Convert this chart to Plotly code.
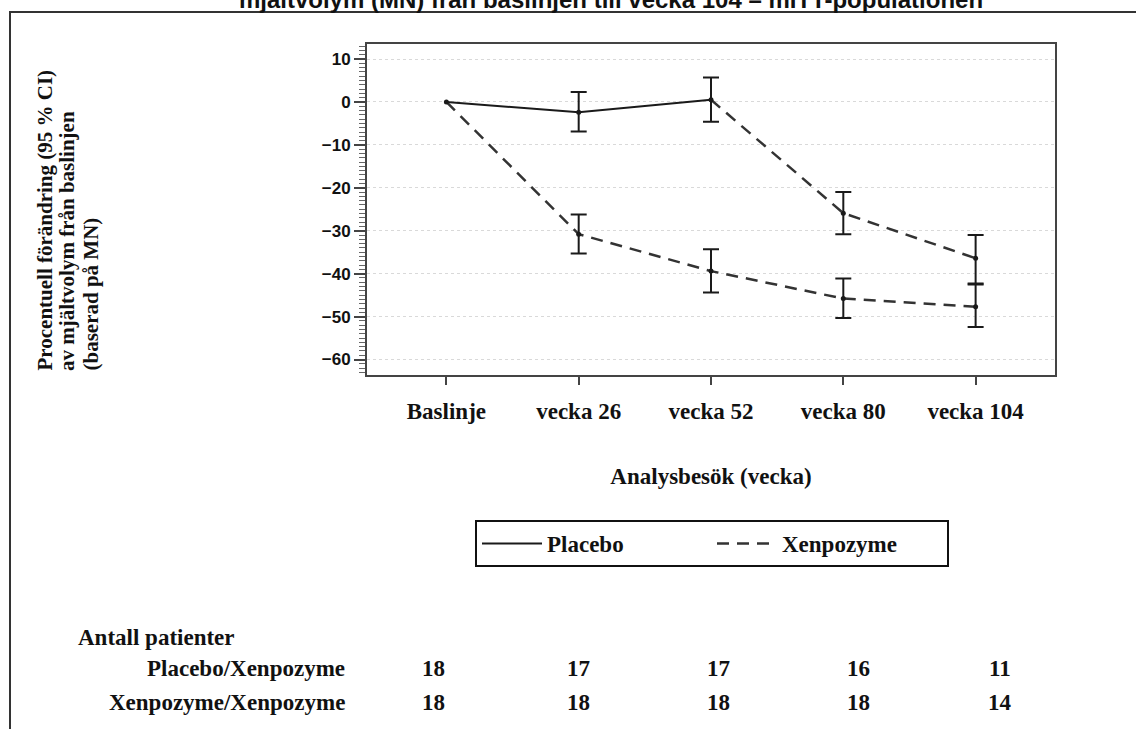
import plotly.graph_objects as go

# ---------------- data ----------------
visits = ["Baslinje", "vecka 26", "vecka 52", "vecka 80", "vecka 104"]

# Placebo group (placebo until week 52, then switched to Xenpozyme)
pbo_mean = [0.0, -2.4, 0.5, -25.9, -36.4]
pbo_upper = [0.0, 2.3, 5.7, -21.0, -31.0]
pbo_lower = [0.0, -6.9, -4.6, -30.8, -42.5]

# Xenpozyme group
xen_mean = [0.0, -30.8, -39.4, -45.8, -47.7]
xen_upper = [0.0, -26.2, -34.3, -41.1, -42.3]
xen_lower = [0.0, -35.3, -44.4, -50.3, -52.4]

row_labels = ["Placebo/Xenpozyme", "Xenpozyme/Xenpozyme"]
n_placebo = [18, 17, 17, 16, 11]
n_xen = [18, 18, 18, 18, 14]

title_text = "mjältvolym (MN) från baslinjen till vecka 104 – mITT-populationen"
y_title_lines = ["Procentuell förändring (95 % CI)", "av mjältvolym från baslinjen", "(baserad på MN)"]
x_title = "Analysbesök (vecka)"
table_title = "Antall patienter"

# ---------------- layout helpers ----------------
W, H = 1136, 729
L, R, T, B = 367, 1055, 44, 375  # plot area in pixels


def px(x):
    return (x - L) / (R - L)


def py(y):
    return (B - y) / (B - T)


SERIF = "Liberation Serif, Times New Roman, serif"
SANS = "Liberation Sans, Arial, sans-serif"
INK = "#1a1a1a"
TXT = "#111111"

fig = go.Figure()

# lines
fig.add_trace(go.Scatter(
    x=visits[:3], y=pbo_mean[:3], name="Placebo", mode="lines",
    line=dict(color=INK, width=2)))
fig.add_trace(go.Scatter(
    x=visits[2:], y=pbo_mean[2:], name="Placebo/Xenpozyme", mode="lines",
    line=dict(color="#333333", width=2.5, dash="12px,8px"), showlegend=False))
fig.add_trace(go.Scatter(
    x=visits, y=xen_mean, name="Xenpozyme", mode="lines",
    line=dict(color="#333333", width=2.5, dash="12px,8px")))

# baseline point
fig.add_trace(go.Scatter(
    x=visits[:1], y=pbo_mean[:1], mode="markers", showlegend=False, hoverinfo="skip",
    marker=dict(color=INK, size=5)))

# means with 95 % confidence intervals
for mean, up, lo in [(pbo_mean, pbo_upper, pbo_lower), (xen_mean, xen_upper, xen_lower)]:
    fig.add_trace(go.Scatter(
        x=visits[1:], y=mean[1:], mode="markers", showlegend=False, hoverinfo="skip",
        marker=dict(color=INK, size=5),
        error_y=dict(type="data", symmetric=False,
                     array=[u - m for u, m in zip(up[1:], mean[1:])],
                     arrayminus=[m - l for m, l in zip(mean[1:], lo[1:])],
                     color=INK, thickness=2, width=8)))

annotations = []
# y-axis title lines (rotated)
for xc, txt in zip([44, 67, 90], y_title_lines):
    annotations.append(dict(
        x=px(xc), y=py(373), xref="paper", yref="paper", text=txt, textangle=-90,
        showarrow=False, xanchor="center", yanchor="bottom",
        font=dict(family=SERIF, size=21, color=TXT, weight="bold")))

# patient count table
annotations.append(dict(x=px(76), y=py(637), xref="paper", yref="paper", text=table_title,
                        showarrow=False, xanchor="left", yanchor="middle",
                        font=dict(family=SERIF, size=23, color=TXT, weight="bold")))
num_x = [433, 578, 718, 858, 1000]
for yrow, lab, counts in [(668, row_labels[0], n_placebo), (702, row_labels[1], n_xen)]:
    annotations.append(dict(x=px(347), y=py(yrow), xref="paper", yref="paper", text=lab,
                            showarrow=False, xanchor="right", yanchor="middle",
                            font=dict(family=SERIF, size=23, color=TXT, weight="bold")))
    for xc, n in zip(num_x, counts):
        annotations.append(dict(x=px(xc), y=py(yrow), xref="paper", yref="paper", text=str(n),
                                showarrow=False, xanchor="center", yanchor="middle",
                                font=dict(family=SERIF, size=23, color=TXT, weight="bold")))

shapes = [dict(type="rect", xref="paper", yref="paper",
               x0=px(10), y0=py(12), x1=px(1150), y1=py(745),
               line=dict(color="#333333", width=2), fillcolor="rgba(0,0,0,0)", layer="below")]

fig.update_layout(
    width=W, height=H,
    margin=dict(l=L, r=W - R, t=T, b=H - B, pad=0),
    paper_bgcolor="white", plot_bgcolor="white",
    title=dict(text=title_text, x=611 / W, xanchor="center", y=1.0, yanchor="middle",
               yref="container", pad=dict(t=0, b=0),
               font=dict(family=SANS, size=24, color=TXT, weight="bold")),
    font=dict(family=SERIF, color=TXT),
    showlegend=True,
    legend=dict(orientation="h", x=px(475), y=py(520), xanchor="left", yanchor="top",
                bordercolor="#111", borderwidth=2, bgcolor="white",
                entrywidth=160, entrywidthmode="pixels",
                font=dict(family=SERIF, size=23, color=TXT, weight="bold"),
                itemwidth=60),
    annotations=annotations,
    shapes=shapes,
    xaxis=dict(
        type="category", range=[-0.6, 4.6], showline=True, mirror=True,
        linecolor="#444", linewidth=2, ticks="outside", ticklen=8, tickwidth=1.5,
        tickcolor="#444", showgrid=False, zeroline=False, ticklabelstandoff=6,
        tickfont=dict(family=SERIF, size=23, color=TXT, weight="bold"),
        title=dict(text=x_title, standoff=45,
                   font=dict(family=SERIF, size=23, color=TXT, weight="bold"))),
    yaxis=dict(
        range=[-63.6, 13.5], tick0=0, dtick=10, showline=True, mirror=True,
        linecolor="#444", linewidth=2, ticks="outside", ticklen=11, tickwidth=1.5,
        tickcolor="#444", showgrid=True, gridcolor="#d9d9d9", griddash="dot",
        gridwidth=1, zeroline=False,
        tickfont=dict(family=SANS, size=17, color=TXT, weight="bold"),
        minor=dict(dtick=1, ticks="outside", ticklen=6, tickcolor="#666", tickwidth=1,
                   showgrid=False)),
)

fig.write_html("out.html", config={"displayModeBar": False},
               post_script="document.body.style.margin='0';")
